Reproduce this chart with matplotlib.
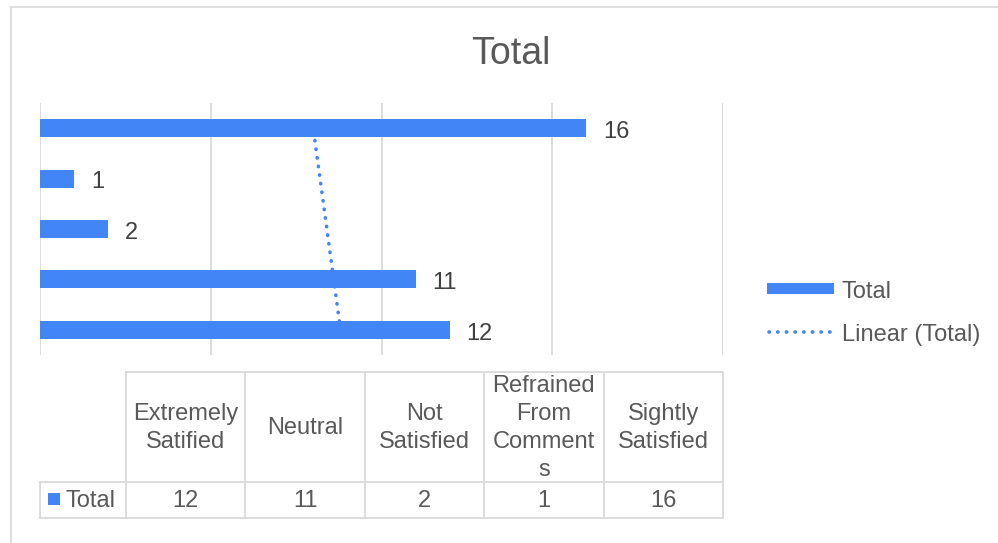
import numpy as np
import matplotlib
matplotlib.use("Agg")
import matplotlib.pyplot as plt
from matplotlib.lines import Line2D
from matplotlib.patches import Rectangle

plt.rcParams['font.family'] = ['Liberation Sans', 'DejaVu Sans']

# ---- data ----
categories = ["Extremely Satified", "Neutral", "Not Satisfied",
              "Refrained From Comments", "Sightly Satisfied"]
table_labels = ["Extremely\nSatified", "Neutral", "Not\nSatisfied",
                "Refrained\nFrom\nComment\ns", "Sightly\nSatisfied"]
values = [12, 11, 2, 1, 16]
series_name = "Total"
trend_name = "Linear (Total)"
title = "Total"

BLUE = "#4285F4"
GRID = "#D9D9D9"
TXT = "#595959"
LBL = "#404040"
FS = 17

W, H = 998, 543
fig = plt.figure(figsize=(W / 100, H / 100), dpi=100)
fig.patch.set_facecolor("white")


def fbox(x0, y0, x1, y1):
    return [x0 / W, 1 - y1 / H, (x1 - x0) / W, (y1 - y0) / H]


# chart frame (top & left edges visible)
fig.add_artist(Line2D([11 / W, 1], [1 - 7 / H, 1 - 7 / H], color=GRID, lw=1.2))
fig.add_artist(Line2D([11 / W, 11 / W], [0, 1 - 7 / H], color=GRID, lw=1.2))

fig.text(511 / W, 1 - 50 / H, title, ha="center", va="center_baseline",
         fontsize=27, color=TXT)

# ---- main bar axes ----
ax = fig.add_axes(fbox(40, 103, 723, 355))
n = len(values)
ypos = np.arange(n)
bars = ax.barh(ypos, values, height=0.36, color=BLUE, zorder=3)
ax.set_xlim(0, 20)
ax.set_ylim(-0.5, n - 0.5)
ax.set_xticks([0, 5, 10, 15, 20])
ax.set_yticks([])
ax.tick_params(axis="x", length=0, labelbottom=False)
ax.grid(axis="x", color=GRID, lw=1.3, zorder=0)
for s in ax.spines.values():
    s.set_visible(False)
ax.set_facecolor("none")

for yv, v in zip(ypos, values):
    ax.annotate(str(v), (v, yv), xytext=(12.0, -1.0), textcoords="offset points",
                ha="left", va="center_baseline", fontsize=FS, color=LBL)

# linear trendline
xi = np.arange(1, n + 1)
coef = np.polyfit(xi, values, 1)
trend = np.polyval(coef, xi)
DOT = (0, (0.1, 2.3))
ax.plot(trend, ypos, color=BLUE, lw=2.6, linestyle=DOT,
        dash_capstyle="round", zorder=2)

# ---- legend (manual) ----
fig.add_artist(Rectangle((767 / W, 1 - 294 / H), (834 - 767) / W, 11 / H,
                         facecolor=BLUE, edgecolor="none"))
fig.text(842 / W, 1 - 290 / H, series_name, ha="left", va="center_baseline",
         fontsize=FS, color=TXT)
fig.add_artist(Line2D([769 / W, 830 / W], [1 - 332 / H, 1 - 332 / H],
                      color=BLUE, lw=2.6, linestyle=DOT,
                      dash_capstyle="round"))
fig.text(842 / W, 1 - 333 / H, trend_name, ha="left", va="center_baseline",
         fontsize=FS, color=TXT)

# ---- data table ----
tx0, tx1, ty0, tymid, ty1 = 40, 723, 372, 482, 518
lab_w = 126
tab = fig.add_axes(fbox(tx0, ty0, tx1, ty1))
tab.set_xlim(tx0, tx1)
tab.set_ylim(ty1, ty0)
tab.axis("off")
colw = (tx1 - lab_w) / n
lw_t = 1.3
tab.plot([lab_w, tx1], [ty0, ty0], color=GRID, lw=lw_t, clip_on=False)
tab.plot([tx0, tx1], [tymid, tymid], color=GRID, lw=lw_t, clip_on=False)
tab.plot([tx0, tx1], [ty1, ty1], color=GRID, lw=lw_t, clip_on=False)
tab.plot([tx0, tx0], [tymid, ty1], color=GRID, lw=lw_t, clip_on=False)
for i in range(n + 1):
    xx = lab_w + i * colw
    tab.plot([xx, xx], [ty0, ty1], color=GRID, lw=lw_t, clip_on=False)
for i, (lab, v) in enumerate(zip(table_labels, values)):
    cx = lab_w + (i + 0.5) * colw
    tab.text(cx, (ty0 + tymid) / 2 + 1, lab, ha="center", va="center",
             fontsize=FS, color=TXT, linespacing=1.35, multialignment="center")
    tab.text(cx, (tymid + ty1) / 2 + 1, str(v), ha="center", va="center",
             fontsize=FS, color=TXT)
tab.add_patch(Rectangle((48, 493), 12, 12, facecolor=BLUE, edgecolor="none",
                        clip_on=False))
tab.text(65, (tymid + ty1) / 2 + 1, series_name, ha="left", va="center",
         fontsize=FS, color=TXT)

fig.savefig("out.png", dpi=100, facecolor="white")
